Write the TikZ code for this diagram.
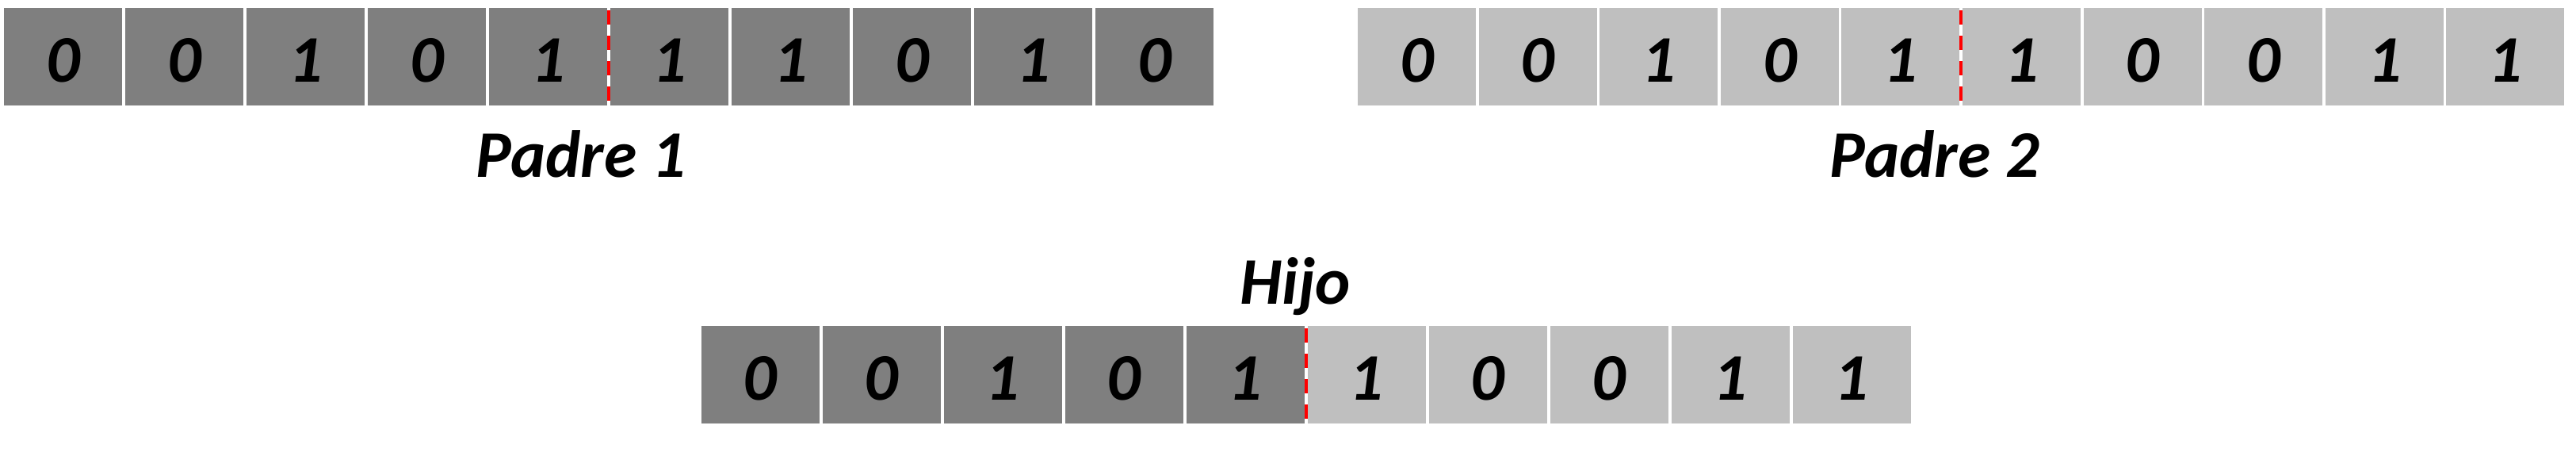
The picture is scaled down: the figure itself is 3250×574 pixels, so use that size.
\documentclass[tikz,border=0pt]{standalone}
\usepackage{fontspec}
\setmainfont{Carlito}
\usetikzlibrary{calc}
\definecolor{celldark}{HTML}{7F7F7F}
\definecolor{celllight}{HTML}{BFBFBF}
\definecolor{cutred}{HTML}{FF0000}
\tikzset{
  cell/.style={minimum width=149pt, minimum height=123pt, inner sep=0pt,
    text height=63pt, text depth=0pt,
    font=\fontsize{84pt}{100pt}\selectfont\bfseries\itshape},
  darkcell/.style={cell, fill=celldark},
  lightcell/.style={cell, fill=celllight},
  cutline/.style={draw=cutred, line width=4pt, dash pattern=on 18pt off 14pt,
    shorten <=3pt, shorten >=5pt},
  lbl/.style={anchor=base, inner sep=0pt,
    font=\fontsize{84pt}{100pt}\selectfont\bfseries\itshape}
}
\begin{document}
\begin{tikzpicture}[x=1pt,y=-1pt]
\useasboundingbox (0,0) rectangle (3250,574);
% Padre 1
\foreach \b [count=\i from 0] in {0,0,1,0,1,1,1,0,1,0} {
  \node[darkcell] (pa\i) at ({79.5+153*\i},71.5) {\b};
}
% Padre 2
\foreach \b [count=\i from 0] in {0,0,1,0,1,1,0,0,1,1} {
  \node[lightcell] (pb\i) at ({1787.5+152.6*\i},71.5) {\b};
}
% Hijo
\foreach \b [count=\i from 0] in {0,0,1,0,1} {
  \node[darkcell] (h\i) at ({959+153*\i},472.5) {\b};
}
\foreach \b [count=\i from 5] in {1,0,0,1,1} {
  \node[lightcell] (h\i) at ({959+153*\i},472.5) {\b};
}
% labels
\node[lbl] (lpa) at (733,223) {Padre 1};
\node[lbl] (lpb) at (2441,223) {Padre 2};
\node[lbl] (lh) at (1634,383) {Hijo};
% crossover points
\draw[cutline] ($(pa4.north east)!0.5!(pa5.north west)$) -- ($(pa4.south east)!0.5!(pa5.south west)$);
\draw[cutline] ($(pb4.north east)!0.5!(pb5.north west)$) -- ($(pb4.south east)!0.5!(pb5.south west)$);
\draw[cutline] ($(h4.north east)!0.5!(h5.north west)$) -- ($(h4.south east)!0.5!(h5.south west)$);
\end{tikzpicture}
\end{document}
